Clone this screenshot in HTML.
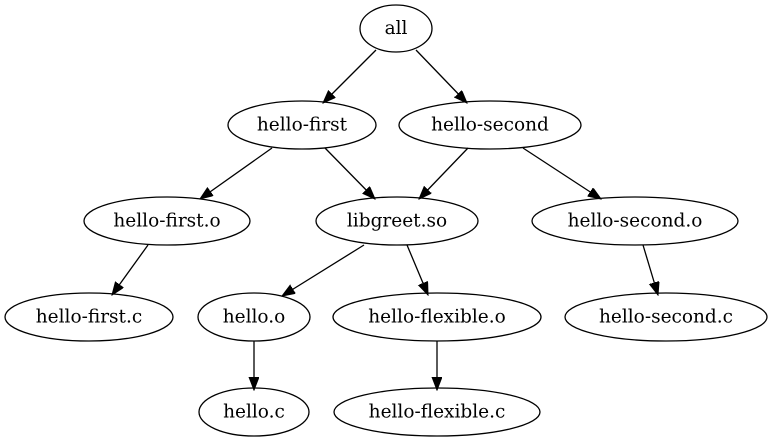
<!DOCTYPE html>
<html><head><meta charset="utf-8"><style>
html,body{margin:0;padding:0;background:#fff;}
svg{display:block;}
text{font-family:"DejaVu Serif",serif;font-size:18.5px;fill:#000;text-anchor:middle;dominant-baseline:central;}
ellipse{fill:none;stroke:#000;stroke-width:1.3;}
line{stroke:#000;stroke-width:1.3;}
</style></head><body>
<svg width="773" height="443" viewBox="0 0 773 443" xmlns="http://www.w3.org/2000/svg">
<defs><marker id="a" markerUnits="userSpaceOnUse" markerWidth="14" markerHeight="12" refX="13" refY="5" orient="auto"><path d="M0,0 L13,5 L0,10 Z" fill="#000" stroke="#000"/></marker></defs>
<ellipse cx="396" cy="28.5" rx="36" ry="23.5"/><text x="396" y="28.5">all</text>
<ellipse cx="302" cy="125" rx="74" ry="24"/><text x="302" y="125">hello-first</text>
<ellipse cx="490" cy="125" rx="91" ry="24"/><text x="490" y="125">hello-second</text>
<ellipse cx="167" cy="221" rx="83" ry="24"/><text x="167" y="221">hello-first.o</text>
<ellipse cx="397" cy="221" rx="81" ry="24"/><text x="397" y="221">libgreet.so</text>
<ellipse cx="635" cy="221" rx="103" ry="24"/><text x="635" y="221">hello-second.o</text>
<ellipse cx="89" cy="317" rx="84" ry="24"/><text x="89" y="317">hello-first.c</text>
<ellipse cx="254" cy="317" rx="56" ry="24"/><text x="254" y="317">hello.o</text>
<ellipse cx="437" cy="317" rx="104" ry="24"/><text x="437" y="317">hello-flexible.o</text>
<ellipse cx="666" cy="317" rx="101" ry="24"/><text x="666" y="317">hello-second.c</text>
<ellipse cx="254" cy="412" rx="55" ry="24"/><text x="254" y="412">hello.c</text>
<ellipse cx="437" cy="412" rx="103" ry="24"/><text x="437" y="412">hello-flexible.c</text>
<line x1="376" y1="50" x2="323" y2="103" marker-end="url(#a)"/>
<line x1="416" y1="50" x2="467" y2="103" marker-end="url(#a)"/>
<line x1="272" y1="148" x2="200" y2="199" marker-end="url(#a)"/>
<line x1="325" y1="148" x2="375" y2="199" marker-end="url(#a)"/>
<line x1="468" y1="148" x2="419" y2="199" marker-end="url(#a)"/>
<line x1="523" y1="148" x2="601" y2="199" marker-end="url(#a)"/>
<line x1="148" y1="245" x2="112" y2="295" marker-end="url(#a)"/>
<line x1="364" y1="245" x2="282" y2="296" marker-end="url(#a)"/>
<line x1="407" y1="245" x2="428" y2="295" marker-end="url(#a)"/>
<line x1="643" y1="245" x2="658" y2="295" marker-end="url(#a)"/>
<line x1="254" y1="341" x2="254" y2="390" marker-end="url(#a)"/>
<line x1="437" y1="341" x2="437" y2="390" marker-end="url(#a)"/>
</svg>
</body></html>
